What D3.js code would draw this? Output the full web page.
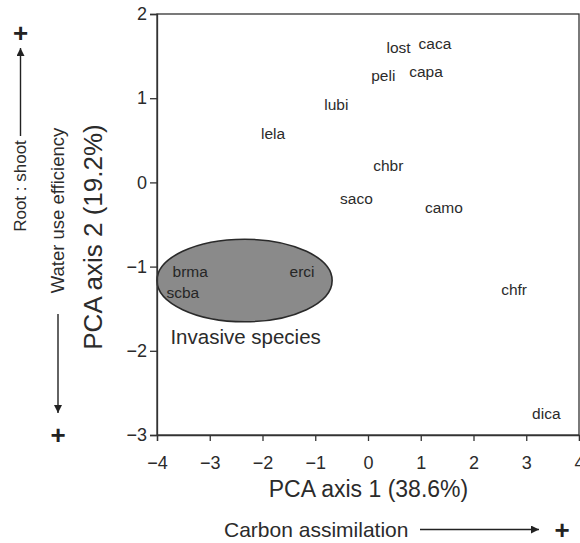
<!DOCTYPE html>
<html>
<head>
<meta charset="utf-8">
<script src="https://cdn.jsdelivr.net/npm/d3@7"></script>
<style>
  html, body { margin: 0; padding: 0; background: #fff; }
  svg { display: block; font-family: "Liberation Sans", Arial, Helvetica, sans-serif; }
</style>
</head>
<body>
<svg id="chart" width="580" height="543"></svg>
<script>
// ---- data ----
const species = ["lost", "caca", "peli", "capa", "lubi", "lela", "chbr", "saco", "camo", "brma", "erci", "scba", "chfr", "dica"];
const pca1 = [0.58, 1.27, 0.29, 1.10, -0.60, -1.80, 0.385, -0.22, 1.44, -3.37, -1.25, -3.51, 2.77, 3.38];
const pca2 = [1.60, 1.65, 1.27, 1.32, 0.92, 0.58, 0.195, -0.19, -0.30, -1.06, -1.06, -1.31, -1.27, -2.75];
const xTicks = [-4, -3, -2, -1, 0, 1, 2, 3, 4];
const yTicks = [-3, -2, -1, 0, 1, 2];
const invasiveGroup = ["brma", "erci", "scba"];
const ellipseCenter = [-2.34, -1.165];
const ellipseRadii = [1.66, 0.49];
const groupLabel = "Invasive species";
const groupLabelPos = [-2.32, -1.83];
const xTitle = "PCA axis 1 (38.6%)";
const yTitle = "PCA axis 2 (19.2%)";

// ---- layout ----
const svg = d3.select("#chart");
const pLeft = 157, pRight = 579, pTop = 14, pBottom = 435;
const x = d3.scaleLinear().domain([-4, 4]).range([pLeft, pRight]);
const y = d3.scaleLinear().domain([-3, 2]).range([pBottom, pTop]);
const ink = "#2b2b2b";

// ellipse (behind labels)
svg.append("ellipse")
  .attr("cx", x(ellipseCenter[0]))
  .attr("cy", y(ellipseCenter[1]))
  .attr("rx", x(ellipseRadii[0]) - x(0))
  .attr("ry", y(0) - y(ellipseRadii[1]))
  .attr("fill", "#8a8a8a")
  .attr("stroke", "#2a2a2a")
  .attr("stroke-width", 1.6);

// frame
svg.append("rect")
  .attr("x", pLeft).attr("y", pTop)
  .attr("width", pRight - pLeft).attr("height", pBottom - pTop)
  .attr("fill", "none").attr("stroke", "#333").attr("stroke-width", 1.3);

// axes
const xAxis = svg.append("g")
  .attr("transform", `translate(0,${pBottom})`)
  .call(d3.axisBottom(x).tickValues(xTicks).tickSize(6).tickPadding(15).tickFormat(d3.format("d")));
const yAxis = svg.append("g")
  .attr("transform", `translate(${pLeft},0)`)
  .call(d3.axisLeft(y).tickValues(yTicks).tickSize(7).tickPadding(3).tickFormat(d3.format("d")));
[xAxis, yAxis].forEach(g => {
  g.select(".domain").attr("stroke", "#333").attr("stroke-width", 1.3);
  g.selectAll(".tick line").attr("stroke", "#333").attr("stroke-width", 1.3);
  g.selectAll(".tick text").attr("fill", ink).style("font-size", "18px")
    .style("font-family", '"Liberation Sans", Arial, sans-serif');
});

// species labels
svg.append("g").selectAll("text")
  .data(species)
  .join("text")
  .attr("x", (d, i) => x(pca1[i]))
  .attr("y", (d, i) => y(pca2[i]))
  .attr("text-anchor", "middle")
  .attr("dominant-baseline", "central")
  .attr("fill", d => invasiveGroup.includes(d) ? "#262626" : ink)
  .style("font-size", "15.5px")
  .text(d => d);

// group label
svg.append("text")
  .attr("x", x(groupLabelPos[0]))
  .attr("y", y(groupLabelPos[1]))
  .attr("text-anchor", "middle")
  .attr("dominant-baseline", "central")
  .attr("fill", ink)
  .style("font-size", "20.5px")
  .text(groupLabel);

// axis titles
svg.append("text")
  .attr("x", 368.5).attr("y", 497)
  .attr("text-anchor", "middle")
  .attr("fill", ink).style("font-size", "23px")
  .text(xTitle);
svg.append("text")
  .attr("transform", "translate(102,237) rotate(-90)")
  .attr("text-anchor", "middle")
  .attr("fill", ink).style("font-size", "26px")
  .text(yTitle);

// arrow marker
const defs = svg.append("defs");
defs.append("marker")
  .attr("id", "arrow")
  .attr("viewBox", "0 0 10 10")
  .attr("refX", 10).attr("refY", 5)
  .attr("markerWidth", 11).attr("markerHeight", 8)
  .attr("markerUnits", "userSpaceOnUse")
  .attr("orient", "auto")
  .append("path").attr("d", "M0,0 L10,5 L0,10 z").attr("fill", "#222");

// bottom interpretive label
svg.append("text")
  .attr("x", 224).attr("y", 537)
  .attr("fill", ink).style("font-size", "21px")
  .text("Carbon assimilation");
svg.append("line")
  .attr("x1", 420).attr("y1", 529.5).attr("x2", 539).attr("y2", 529.5)
  .attr("stroke", "#222").attr("stroke-width", 1.4)
  .attr("marker-end", "url(#arrow)");
svg.append("text")
  .attr("x", 562).attr("y", 529.5)
  .attr("text-anchor", "middle").attr("dominant-baseline", "central")
  .attr("fill", "#222").style("font-size", "26px").style("font-weight", "bold")
  .text("+");

// left interpretive labels
svg.append("text")
  .attr("transform", "translate(26,186) rotate(-90)")
  .attr("text-anchor", "middle")
  .attr("fill", ink).style("font-size", "17px")
  .text("Root : shoot");
svg.append("line")
  .attr("x1", 20.5).attr("y1", 136).attr("x2", 20.5).attr("y2", 48)
  .attr("stroke", "#222").attr("stroke-width", 1.4)
  .attr("marker-end", "url(#arrow)");
svg.append("text")
  .attr("x", 20.5).attr("y", 33)
  .attr("text-anchor", "middle").attr("dominant-baseline", "central")
  .attr("fill", "#222").style("font-size", "26px").style("font-weight", "bold")
  .text("+");

svg.append("text")
  .attr("transform", "translate(64,210.5) rotate(-90)")
  .attr("text-anchor", "middle")
  .attr("fill", ink).style("font-size", "18.5px")
  .text("Water use efficiency");
svg.append("line")
  .attr("x1", 58).attr("y1", 314).attr("x2", 58).attr("y2", 413)
  .attr("stroke", "#222").attr("stroke-width", 1.4)
  .attr("marker-end", "url(#arrow)");
svg.append("text")
  .attr("x", 58).attr("y", 435)
  .attr("text-anchor", "middle").attr("dominant-baseline", "central")
  .attr("fill", "#222").style("font-size", "26px").style("font-weight", "bold")
  .text("+");
</script>
</body>
</html>
